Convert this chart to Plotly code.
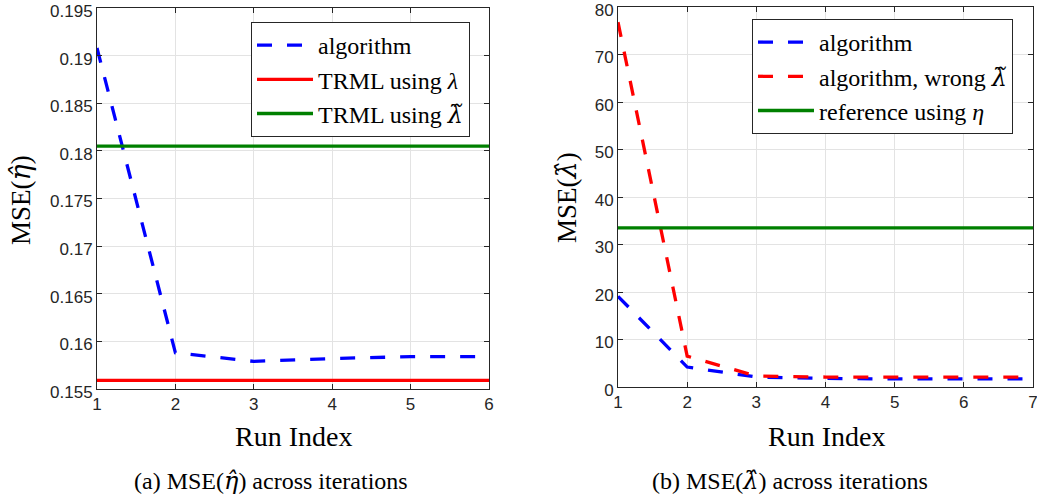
import plotly.graph_objects as go

# ---- data ----
run_a = [1, 2, 3, 4, 5, 6]
alg_eta = [0.1908, 0.1588, 0.1579, 0.1582, 0.1584, 0.1584]
trml_lambda = 0.1559
trml_lambda_tilde = 0.1805

run_b = [1, 2, 3, 4, 5, 6, 7]
alg_lambda = [19.1, 4.2, 2.1, 1.8, 1.7, 1.7, 1.7]
alg_wrong = [76.8, 6.5, 2.3, 2.1, 2.1, 2.1, 2.1]
ref_eta = 33.5

yticks_a = [0.155, 0.16, 0.165, 0.17, 0.175, 0.18, 0.185, 0.19, 0.195]
yticklabels_a = ["0.155", "0.16", "0.165", "0.17", "0.175", "0.18", "0.185", "0.19", "0.195"]
yticks_b = [0, 10, 20, 30, 40, 50, 60, 70, 80]

W, H = 1037, 499
ML, MR, MT, MB = 0, 3, 0, 0
BLUE, RED, GREEN = "#0000ff", "#ff0000", "#008000"
AX = "#262626"
GRID = "#e3e3e3"
SERIF = "Liberation Serif"
SANS = "Liberation Sans"
DASH = "15px,15px"
EPS = 1e-9

LAM_T = '<span style="font-family:DejaVu Serif"><i>λ\u0303</i></span>'
LAM_H = '<span style="font-family:DejaVu Serif"><i>λ\u0302</i></span>'
ETA_H = '<span style="font-family:DejaVu Serif"><i>η\u0302</i></span>'

fig = go.Figure()

# left panel
fig.add_trace(go.Scatter(x=run_a, y=alg_eta, mode="lines", name="algorithm",
                         line=dict(color=BLUE, width=3.3, dash=DASH),
                         xaxis="x", yaxis="y", legend="legend"))
fig.add_trace(go.Scatter(x=[run_a[0], run_a[-1]], y=[trml_lambda, trml_lambda], mode="lines",
                         name="TRML using <i>λ</i>", line=dict(color=RED, width=3.3),
                         xaxis="x", yaxis="y", legend="legend"))
fig.add_trace(go.Scatter(x=[run_a[0], run_a[-1]], y=[trml_lambda_tilde, trml_lambda_tilde], mode="lines",
                         name="TRML using " + LAM_T, line=dict(color=GREEN, width=3.3),
                         xaxis="x", yaxis="y", legend="legend"))

# right panel
fig.add_trace(go.Scatter(x=run_b, y=alg_lambda, mode="lines", name="algorithm",
                         line=dict(color=BLUE, width=3.3, dash=DASH),
                         xaxis="x2", yaxis="y2", legend="legend2"))
fig.add_trace(go.Scatter(x=run_b, y=alg_wrong, mode="lines", name="algorithm, wrong " + LAM_T,
                         line=dict(color=RED, width=3.3, dash=DASH),
                         xaxis="x2", yaxis="y2", legend="legend2"))
fig.add_trace(go.Scatter(x=[run_b[0], run_b[-1]], y=[ref_eta, ref_eta], mode="lines",
                         name="reference using <i>η</i>", line=dict(color=GREEN, width=3.3),
                         xaxis="x2", yaxis="y2", legend="legend2"))

def px_x(p):
    return (p - ML) / (W - ML - MR)

def px_y(p):
    return 1 - (p - MT) / (H - MT - MB)

axis_common = dict(showline=True, linecolor=AX, linewidth=1, mirror="ticks",
                   ticks="inside", ticklen=5, tickcolor=AX, showgrid=True,
                   gridcolor=GRID, gridwidth=1, zeroline=False, automargin=False,
                   ticklabeloverflow="allow",
                   tickfont=dict(family=SANS, size=17, color=AX))

legend_common = dict(bgcolor="white", bordercolor=AX, borderwidth=1,
                     font=dict(family=SERIF, size=24, color="black"),
                     xanchor="left", yanchor="top", itemwidth=56,
                     tracegroupgap=0)

fig.update_layout(
    width=W, height=H, margin=dict(l=ML, r=MR, t=MT, b=MB, autoexpand=False),
    paper_bgcolor="white", plot_bgcolor="white",
    xaxis=dict(domain=[px_x(97), px_x(489)], range=[1 - EPS, 6 + EPS], tickvals=run_a,
               anchor="y", **axis_common),
    yaxis=dict(domain=[px_y(389), px_y(8)], range=[0.155 - 1e-12, 0.195 + 1e-9], tickvals=yticks_a,
               ticktext=yticklabels_a, anchor="x", ticklabelshift=3, **axis_common),
    xaxis2=dict(domain=[px_x(618), px_x(1033)], range=[1 - EPS, 7 + EPS], tickvals=run_b,
                anchor="y2", **axis_common),
    yaxis2=dict(domain=[px_y(387), px_y(7)], range=[0 - EPS, 80 + 1e-6], tickvals=yticks_b,
                anchor="x2", ticklabelshift=3, **axis_common),
    legend=dict(x=px_x(251), y=px_y(22), **legend_common),
    legend2=dict(x=px_x(752), y=px_y(19), **legend_common),
    showlegend=True,
)

annos = [
    dict(text="Run Index", x=px_x(293), y=px_y(436), size=28),
    dict(text="Run Index", x=px_x(826), y=px_y(436), size=28),
    dict(text="(a) MSE(" + ETA_H + ") across iterations", x=px_x(271), y=px_y(481), size=24),
    dict(text="(b) MSE(" + LAM_H + ") across iterations", x=px_x(790), y=px_y(481), size=24),
]
for a in annos:
    fig.add_annotation(text=a["text"], x=a["x"], y=a["y"], xref="paper", yref="paper",
                       showarrow=False, xanchor="center", yanchor="middle",
                       font=dict(family=SERIF, size=a["size"], color="black"))

fig.add_annotation(text="MSE(" + ETA_H + ")", x=px_x(21), y=px_y(200), xref="paper", yref="paper",
                   showarrow=False, textangle=-90, xanchor="center", yanchor="middle",
                   font=dict(family=SERIF, size=27, color="black"))
fig.add_annotation(text="MSE(" + LAM_H + ")", x=px_x(567), y=px_y(198), xref="paper", yref="paper",
                   showarrow=False, textangle=-90, xanchor="center", yanchor="middle",
                   font=dict(family=SERIF, size=27, color="black"))

fig.write_html("out.html")
